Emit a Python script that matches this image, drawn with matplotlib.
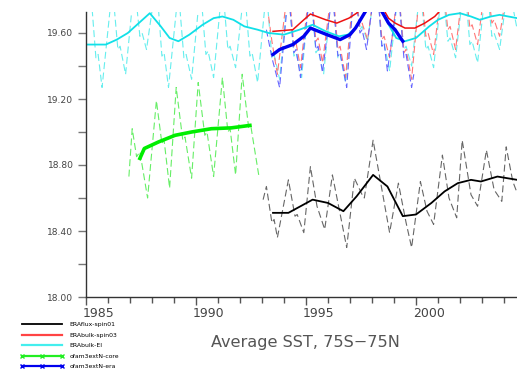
import matplotlib
matplotlib.use("Agg")
import matplotlib.pyplot as plt
from matplotlib.lines import Line2D
from matplotlib.transforms import ScaledTranslation

plt.rcParams['lines.scale_dashes'] = False
plt.rcParams['font.family'] = ['DejaVu Sans']

# ---------------- data ----------------
# ERAbulk-EI (cyan)
cyan_mon_t = [1985.0, 1985.2, 1985.45, 1985.55, 1985.73, 1986.2, 1986.45, 1986.55, 1986.8,
              1987.2, 1987.45, 1987.55, 1987.75, 1988.2, 1988.45, 1988.55, 1988.75,
              1989.2, 1989.45, 1989.55, 1989.8, 1990.2, 1990.45, 1990.55, 1990.8,
              1991.2, 1991.45, 1991.55, 1991.8, 1992.2, 1992.45, 1992.55, 1992.8,
              1993.2, 1993.45, 1993.55, 1993.8, 1994.2, 1994.45, 1994.55, 1994.8,
              1995.2, 1995.45, 1995.55, 1995.8, 1996.2, 1996.45, 1996.55, 1996.8,
              1997.2, 1997.45, 1997.55, 1997.8, 1998.2, 1998.45, 1998.55, 1998.8,
              1999.2, 1999.45, 1999.55, 1999.8, 2000.2, 2000.45, 2000.55, 2000.8,
              2001.2, 2001.45, 2001.55, 2001.8, 2002.2, 2002.45, 2002.55, 2002.8,
              2003.2, 2003.45, 2003.55, 2003.8, 2004.2, 2004.6]
cyan_mon_v = [19.70, 19.88, 19.45, 19.47, 19.27, 19.88, 19.50, 19.52, 19.35,
              19.90, 19.58, 19.60, 19.50, 19.92, 19.46, 19.48, 19.27,
              19.86, 19.45, 19.47, 19.32, 19.88, 19.47, 19.49, 19.33,
              19.90, 19.50, 19.52, 19.39, 19.88, 19.46, 19.48, 19.30,
              19.86, 19.45, 19.47, 19.32, 19.88, 19.46, 19.48, 19.33,
              19.90, 19.48, 19.50, 19.35, 19.88, 19.45, 19.47, 19.30,
              19.92, 19.62, 19.64, 19.55, 19.95, 19.52, 19.54, 19.37,
              19.86, 19.50, 19.52, 19.40, 19.88, 19.50, 19.52, 19.39,
              19.90, 19.55, 19.57, 19.45, 19.92, 19.53, 19.55, 19.42,
              19.92, 19.58, 19.60, 19.50, 19.90, 19.62]
cyan_smooth_t = [1985.0, 1985.9, 1986.4, 1986.9, 1987.4, 1987.9, 1988.4, 1988.8, 1989.2,
                 1989.7, 1990.3, 1990.8, 1991.2, 1991.7, 1992.2, 1992.8, 1993.3, 1994.0,
                 1994.7, 1995.3, 1995.9, 1996.5, 1996.9, 1997.25, 1997.7, 1998.0,
                 1998.5, 1998.8, 1999.1, 1999.5, 2000.0, 2000.6, 2001.0, 2001.5,
                 2002.0, 2002.5, 2002.9, 2003.4, 2003.8, 2004.6]
cyan_smooth_v = [19.53, 19.53, 19.56, 19.60, 19.66, 19.72, 19.64, 19.57, 19.55,
                 19.59, 19.65, 19.69, 19.70, 19.68, 19.64, 19.62, 19.60, 19.59,
                 19.62, 19.65, 19.61, 19.58, 19.59, 19.63, 19.73, 19.79,
                 19.72, 19.64, 19.57, 19.55, 19.57, 19.64, 19.68, 19.71,
                 19.72, 19.70, 19.68, 19.70, 19.71, 19.69]

# ERAbulk-spin03 (red)
red_mon_t = [1993.3, 1993.45, 1993.7, 1994.2, 1994.45, 1994.55, 1994.75, 1995.2, 1995.45,
             1995.55, 1995.75, 1996.2, 1996.45, 1996.55, 1996.8, 1997.2, 1997.45, 1997.55,
             1997.8, 1998.2, 1998.45, 1998.55, 1998.8, 1999.2, 1999.45, 1999.55, 1999.8,
             2000.2, 2000.45, 2000.55, 2000.8, 2001.2, 2001.45, 2001.55, 2001.8,
             2002.2, 2002.45, 2002.55, 2002.8, 2003.2, 2003.45, 2003.55, 2003.8, 2004.0]
red_mon_v = [19.70, 19.55, 19.35, 19.90, 19.52, 19.54, 19.39, 19.92, 19.55,
             19.57, 19.42, 19.90, 19.50, 19.52, 19.33, 19.92, 19.64, 19.66,
             19.56, 19.95, 19.56, 19.58, 19.45, 19.88, 19.48, 19.50, 19.32,
             19.90, 19.58, 19.60, 19.47, 19.92, 19.62, 19.64, 19.50,
             19.95, 19.63, 19.65, 19.53, 19.95, 19.66, 19.68, 19.58, 19.75]
red_smooth_t = [1993.5, 1994.4, 1994.9, 1995.2, 1995.9, 1996.4, 1996.95, 1997.3, 1997.7,
                1998.0, 1998.45, 1998.75, 1999.05, 1999.5, 1999.95, 2000.4, 2000.85,
                2001.2, 2001.8, 2002.5, 2003.2, 2003.8]
red_smooth_v = [19.61, 19.62, 19.68, 19.715, 19.68, 19.66, 19.69, 19.72, 19.78,
                19.84, 19.76, 19.69, 19.66, 19.63, 19.63, 19.66, 19.70,
                19.75, 19.79, 19.80, 19.80, 19.82]

# ofam3extN-era (blue)
blue_mon_t = [1993.2, 1993.45, 1993.8, 1994.2, 1994.45, 1994.55, 1994.75, 1995.2, 1995.45,
              1995.55, 1995.75, 1996.2, 1996.45, 1996.55, 1996.85, 1997.2, 1997.45, 1997.55,
              1997.75, 1998.2, 1998.45, 1998.55, 1998.7, 1999.2, 1999.45, 1999.55, 1999.8, 1999.9]
blue_mon_v = [19.62, 19.45, 19.27, 19.85, 19.48, 19.50, 19.33, 19.88, 19.50,
              19.52, 19.36, 19.85, 19.46, 19.48, 19.27, 19.90, 19.60, 19.62,
              19.50, 19.95, 19.52, 19.54, 19.37, 19.85, 19.45, 19.47, 19.27, 19.35]
blue_smooth_t = [1993.5, 1993.8, 1994.4, 1994.9, 1995.2, 1995.95, 1996.55, 1997.0, 1997.25,
                 1997.7, 1998.0, 1998.45, 1998.75, 1999.05, 1999.4]
blue_smooth_v = [19.47, 19.50, 19.53, 19.58, 19.63, 19.59, 19.56, 19.59, 19.63,
                 19.73, 19.80, 19.73, 19.66, 19.62, 19.55]

# ofam3extN-core (green)
green_mon_t = [1986.95, 1987.1, 1987.3, 1987.45, 1987.8, 1988.2, 1988.45, 1988.55, 1988.8,
               1989.1, 1989.4, 1989.5, 1989.8, 1990.1, 1990.4, 1990.5, 1990.8,
               1991.2, 1991.45, 1991.55, 1991.8, 1992.1, 1992.4, 1992.5, 1992.85]
green_mon_v = [18.73, 19.02, 18.85, 18.88, 18.60, 19.19, 18.93, 18.95, 18.66,
               19.27, 18.95, 18.97, 18.72, 19.30, 18.98, 19.00, 18.73,
               19.33, 19.00, 19.02, 18.74, 19.35, 19.02, 19.03, 18.74]
green_smooth_t = [1987.45, 1987.65, 1988.3, 1989.05, 1989.8, 1990.7, 1991.6, 1992.45]
green_smooth_v = [18.84, 18.90, 18.94, 18.98, 19.00, 19.02, 19.025, 19.04]

# ERAflux-spin01 (black)
black_mon_t = [1993.05, 1993.2, 1993.45, 1993.55, 1993.7, 1994.2, 1994.5, 1994.6, 1994.9,
               1995.2, 1995.5, 1995.85, 1996.2, 1996.6, 1996.85, 1997.2, 1997.55, 1997.65,
               1998.05, 1998.8, 1999.2, 1999.55, 1999.8, 2000.2, 2000.5, 2000.8,
               2001.2, 2001.5, 2001.85, 2002.1, 2002.5, 2002.8, 2003.2, 2003.55, 2003.9,
               2004.1, 2004.4, 2004.6]
black_mon_v = [18.59, 18.67, 18.45, 18.47, 18.36, 18.71, 18.49, 18.50, 18.39,
               18.79, 18.55, 18.41, 18.74, 18.47, 18.30, 18.72, 18.62, 18.60,
               18.95, 18.39, 18.69, 18.45, 18.30, 18.70, 18.52, 18.44,
               18.86, 18.60, 18.48, 18.95, 18.62, 18.55, 18.89, 18.65, 18.58,
               18.91, 18.70, 18.63]
black_smooth_t = [1993.5, 1994.2, 1995.3, 1996.0, 1996.7, 1997.3, 1998.05, 1998.7, 1999.4,
                  2000.0, 2000.7, 2001.3, 2001.9, 2002.5, 2002.95, 2003.7, 2004.6]
black_smooth_v = [18.51, 18.51, 18.59, 18.57, 18.52, 18.61, 18.74, 18.67, 18.49,
                  18.50, 18.57, 18.64, 18.69, 18.71, 18.70, 18.73, 18.71]

labels = ["ERAflux-spin01", "ERAbulk-spin03", "ERAbulk-EI", "ofam3extN-core", "ofam3extN-era"]
year_ticks = [1985, 1990, 1995, 2000]
y_ticks = [18.0, 18.4, 18.8, 19.2, 19.6]
y_ticklabels = ["18.00", "18.40", "18.80", "19.20", "19.60"]
title = "Average SST, 75S\u221275N"

# ---------------- figure ----------------
W, H = 517, 369
fig = plt.figure(figsize=(W / 100, H / 100), dpi=100)
ax = fig.add_axes([86 / W, 1 - 297 / H, 1 - 86 / W, (297 - 12) / H])

dash = (0, (5, 2.5))
ax.plot(cyan_mon_t, cyan_mon_v, color='#66eeee', lw=0.8, linestyle=dash)
ax.plot(green_mon_t, green_mon_v, color='#66ee66', lw=0.8, linestyle=dash)
ax.plot(red_mon_t, red_mon_v, color='#ff7777', lw=0.8, linestyle=dash)
ax.plot(blue_mon_t, blue_mon_v, color='#6666ff', lw=0.8, linestyle=dash)
ax.plot(black_mon_t, black_mon_v, color='#666666', lw=0.8, linestyle=dash)

ax.plot(cyan_smooth_t, cyan_smooth_v, color='#11e0e8', lw=1.3)
ax.plot(red_smooth_t, red_smooth_v, color='#ee1111', lw=1.1)
ax.plot(blue_smooth_t, blue_smooth_v, color='#0000ee', lw=2.4)
ax.plot(green_smooth_t, green_smooth_v, color='#00ee00', lw=2.6)
ax.plot(black_smooth_t, black_smooth_v, color='#000000', lw=1.3)

ax.set_xlim(1985, 1985 + (W - 86) / 22)
ax.set_ylim(18.0, 18.0 + (297 - 12) / 165)

ax.set_xticks(year_ticks)
ax.set_xticklabels([str(y) for y in year_ticks])
ax.set_xticks(list(range(1986, 2005)), minor=True)
ax.set_yticks(y_ticks)
ax.set_yticklabels(y_ticklabels)
ax.set_yticks([18.2, 18.6, 19.0, 19.4], minor=True)

for s in ['top', 'right']:
    ax.spines[s].set_visible(False)
for s in ['left', 'bottom']:
    ax.spines[s].set_color('#333333')
    ax.spines[s].set_linewidth(1.0)

ax.tick_params(axis='x', which='major', length=6, width=1, color='#555555',
               labelsize=9.0, labelcolor='#444444', pad=1.5)
ax.tick_params(axis='x', which='minor', length=4, width=1, color='#555555')
ax.tick_params(axis='y', which='both', length=6, width=1, color='#777777',
               labelsize=6.6, labelcolor='#444444', pad=3)

off = ScaledTranslation(-3 / 100, 0, fig.dpi_scale_trans)
for lab in ax.get_xticklabels():
    lab.set_horizontalalignment('left')
    lab.set_transform(lab.get_transform() + off)

fig.text(305 / W, 1 - 342 / H, title, ha='center', va='center', fontsize=11.6, color='#555555')

handles = [
    Line2D([], [], color='#000000', lw=1.3),
    Line2D([], [], color='#ff4444', lw=1.6),
    Line2D([], [], color='#44eeee', lw=1.6),
    Line2D([], [], color='#22ee22', lw=1.6, marker='x', markersize=2.5),
    Line2D([], [], color='#0000ee', lw=1.6, marker='x', markersize=2.5),
]
fig.legend(handles, labels, loc='upper left', bbox_to_anchor=(20 / W, 1 - 322 / H),
           frameon=False, fontsize=4.4, handlelength=7.2, handletextpad=0.9,
           labelspacing=0.85, numpoints=3, borderaxespad=0, borderpad=0)

fig.savefig("out.png", dpi=100)
